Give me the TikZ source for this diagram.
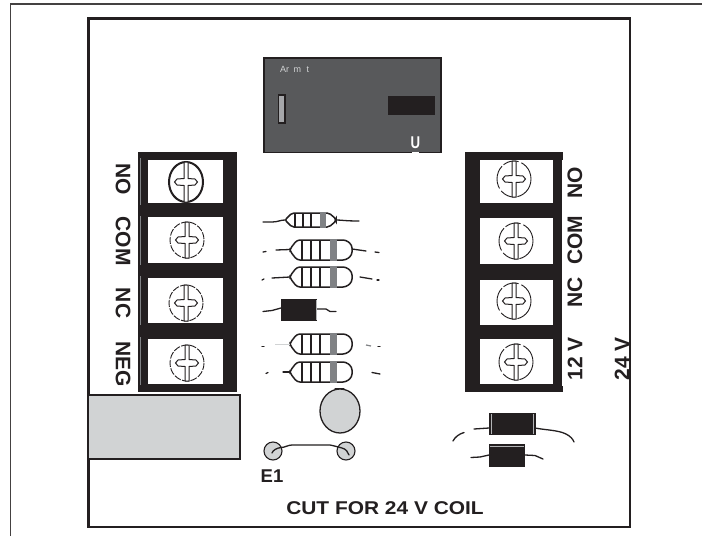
\documentclass[tikz,border=0pt]{standalone}
\usepackage{fontspec}
\setmainfont{Liberation Sans}
\definecolor{ink}{HTML}{231F20}
\definecolor{relay}{HTML}{58595B}
\definecolor{pale}{HTML}{D1D3D4}
\definecolor{band}{HTML}{808285}
\tikzset{
  frameline/.style={draw=ink,line width=2.4pt},
  thinframe/.style={draw=ink!85,line width=1.6pt},
  blockfill/.style={fill=ink},
  windowbox/.style={fill=white},
  lead/.style={draw=ink,line width=1.3pt,line cap=round},
  lab/.style={font=\fontsize{21}{22}\bfseries\selectfont,text=ink,inner sep=0pt},
  solidring/.style={draw=ink,line width=2pt},
  dashring/.style={draw=ink,line width=.9pt,dash pattern=on 7pt off 1.5pt},
  openring/.style={draw=ink,line width=.9pt,dash pattern=on 24pt off 2pt on 16pt off 3pt},
}
\newcommand{\screwmark}[5]{% x y rx ry style
  \draw[#5] (#1,#2) ellipse [x radius=#3, y radius=#4];
  \begin{scope}[shift={(#1,#2)}]
    \draw[fill=white,draw=ink,line width=1pt,line join=miter]
      (-2,-#4) -- (2,-#4) -- (2,-3.5) -- (9,-3) -- (11.5,0) -- (9,3) -- (2,3.5) -- (2,#4)
      -- (-2,#4) -- (-2,3.5) -- (-9,3) -- (-11.5,0) -- (-9,-3) -- (-2,-3.5) -- cycle;
  \end{scope}
}
\newcommand{\resistor}[3]{% x0 x1 y (large body)
  \draw[draw=ink,line width=1.5pt,fill=white,rounded corners=3pt]
    (#1,#3-1) -- (#1+7,#3-10) -- (#2-6,#3-10) -- (#2,#3-5) -- (#2,#3+5) -- (#2-6,#3+10) -- (#1+7,#3+10) -- (#1,#3+1) -- cycle;
  \foreach \bx in {12,21,30} {\draw[ink,line width=1.5pt] (#1+\bx,#3-10) -- (#1+\bx,#3+10);}
  \fill[band] (#1+40,#3-11) rectangle (#1+47,#3+11);
}
\begin{document}
\begin{tikzpicture}[x=1pt,y=-1pt]
\useasboundingbox (0,0) rectangle (702,536);
\fill[white] (0,0) rectangle (702,536);
% outer and inner frame
\draw[thinframe] (10.5,536) -- (10.5,4) -- (702,4);
\draw[frameline] (88.5,527) rectangle (630,18.5);
% relay
\draw[fill=relay,draw=ink,line width=1.3pt] (264,58) rectangle (441,152.5);
\node[font=\fontsize{9}{10}\selectfont,text=pale,inner sep=0pt,anchor=west] (armt) at (280,69.5) {Ar\hspace{2pt} m\hspace{3pt} t};
\draw[fill=band!70,draw=ink,line width=1.3pt] (278.5,95) rectangle (285,123);
\fill[ink] (388,96) rectangle (435,115);
\node[font=\fontsize{17}{17}\bfseries\selectfont,text=white,inner sep=0pt,xscale=.78] (ulabel) at (415.5,143) {U};
\fill[white] (412,151.5) rectangle (419,154);
% left terminal block
\fill[blockfill] (138,152) rectangle (237,392);
\draw[band,line width=.5pt] (140,158) -- (140,205) (140,216) -- (140,265) (140,276) -- (140,325) (140,337) -- (140,385);
\foreach \a/\b in {160/203,217/263,278/323,339/384} {\fill[windowbox] (147.5,\a) rectangle (222.5,\b);}
\screwmark{186}{182}{17}{20}{solidring}
\screwmark{187}{240}{17}{18}{dashring}
\screwmark{186}{303}{17}{18}{dashring}
\screwmark{187}{363}{17}{18}{dashring}
% right terminal block
\fill[blockfill] (465,152) rectangle (563,392);
\fill[white] (561.5,160) rectangle (564,386);
\foreach \a/\b in {160/203,218/264,280/324.5,339/384} {\fill[windowbox] (480,\a) rectangle (553,\b);}
\screwmark{514}{179}{17}{18}{openring}
\screwmark{516}{241}{17}{18}{openring}
\screwmark{514}{301}{17}{18}{openring}
\screwmark{516}{362}{17}{18}{openring}
% labels
\node[lab,rotate=-90] (lno) at (123,179) {NO};
\node[lab,rotate=-90] (lcom) at (123,241) {COM};
\node[lab,rotate=-90] (lnc) at (123,303) {NC};
\node[lab,rotate=-90] (lneg) at (123,364) {NEG};
\node[lab,rotate=90] (rno) at (575,183) {NO};
\node[lab,rotate=90] (rcom) at (575,240) {COM};
\node[lab,rotate=90] (rnc) at (575,292) {NC};
\node[lab,rotate=90] (r12) at (575,359) {12 V};
\node[lab,rotate=90] (r24) at (622,359) {24 V};
% top small resistor
\draw[lead] (263,222) -- (272,222) .. controls (278,222) and (280,220) .. (285,220);
\draw[lead] (336,220) .. controls (342,220) and (345,221) .. (359,221);
\draw[draw=ink,line width=1.5pt,fill=white,rounded corners=2pt]
  (285,220) -- (292,213) -- (329,213) -- (336,219) -- (336,221) -- (329,227) -- (292,227) -- cycle;
\foreach \bx in {295,303,311} {\draw[ink,line width=1.5pt] (\bx,213) -- (\bx,227);}
\fill[band] (320,212) rectangle (326,228);
% big resistors
\resistor{290}{352}{250}
\resistor{290}{352}{277}
\resistor{290}{352}{344}
\resistor{290}{352}{372}
\draw[lead] (263,252) -- (266,251.5);
\draw[lead] (276,250) -- (290,249.5);
\draw[lead] (352,249) -- (366,251);
\draw[lead] (375,252) -- (379,252.5);
\draw[lead] (262,280) -- (264,279);
\draw[lead] (272,278) -- (290,277);
\draw[lead] (360,277) -- (372,279);
\draw[lead] (377,280) -- (379,280);
\draw[lead] (262,346.5) -- (264,346.5);
\draw[pale,line width=1.3pt] (275,344.5) -- (290,344.5);
\draw[band,line width=1.2pt] (366,345) -- (371,346);
\draw[lead] (378,346.5) -- (380,346.5);
\draw[lead] (266,373.5) -- (268,372.5);
\draw[lead] (283,372) -- (290,372);
\draw[lead] (372,372.5) -- (380,374);
\draw[lead] (335,389) -- (344,389);
% diode
\draw[lead] (263,311.5) -- (272,310.5) -- (281,308);
\draw[lead] (317,309) -- (326,309) -- (330,311.5) -- (336,311.5);
\fill[ink] (281,299) rectangle (317,321);
\draw[band!60,line width=.7pt] (316,300) -- (316,320);
% can and jumper
\draw[fill=pale,draw=ink,line width=1.3pt] (340,411) ellipse [x radius=20, y radius=22];
\draw[fill=pale,draw=ink,line width=1.1pt] (273,451) circle (9);
\draw[fill=pale,draw=ink,line width=1.1pt] (346,451) circle (9);
\draw[lead] (272,453) .. controls (273,450) and (277,448) .. (281,447.5) .. controls (285,447.5) and (288,445) .. (292,445)
  -- (330,445) .. controls (335,446) and (338,447) .. (342,448) .. controls (346,449) and (348,452) .. (349,455);
\node[font=\fontsize{18.5}{19}\bfseries\selectfont,text=ink,inner sep=0pt] (eone) at (272,476) {E1};
\node[font=\fontsize{18.5}{19}\bfseries\selectfont,text=ink,inner sep=0pt,xscale=1.13] (cut) at (385,508) {CUT FOR 24 V COIL};
% gray cut block
\draw[fill=pale,draw=ink,line width=1.2pt] (88,395) rectangle (240,459);
% right diodes
\draw[lead] (453,441) .. controls (455,437) and (459,434) .. (464,432.5);
\draw[lead] (474,429) -- (489,428);
\draw[lead] (535,428) .. controls (545,430) and (558,430) .. (566,434) .. controls (570,436) and (573,439) .. (574,442);
\fill[ink] (489,413) rectangle (535.5,435);
\draw[band!60,line width=.7pt] (491.5,414) -- (491.5,434);
\draw[band!60,line width=.7pt] (533,414) -- (533,434);
\draw[lead] (471,457.5) -- (480,457) -- (489,455);
\draw[lead] (525,455) -- (535,455.5) -- (543,459);
\fill[ink] (489,444) rectangle (525,467);
\draw[band!60,line width=.7pt] (490,446.5) -- (524,446.5);
\end{tikzpicture}
\end{document}
